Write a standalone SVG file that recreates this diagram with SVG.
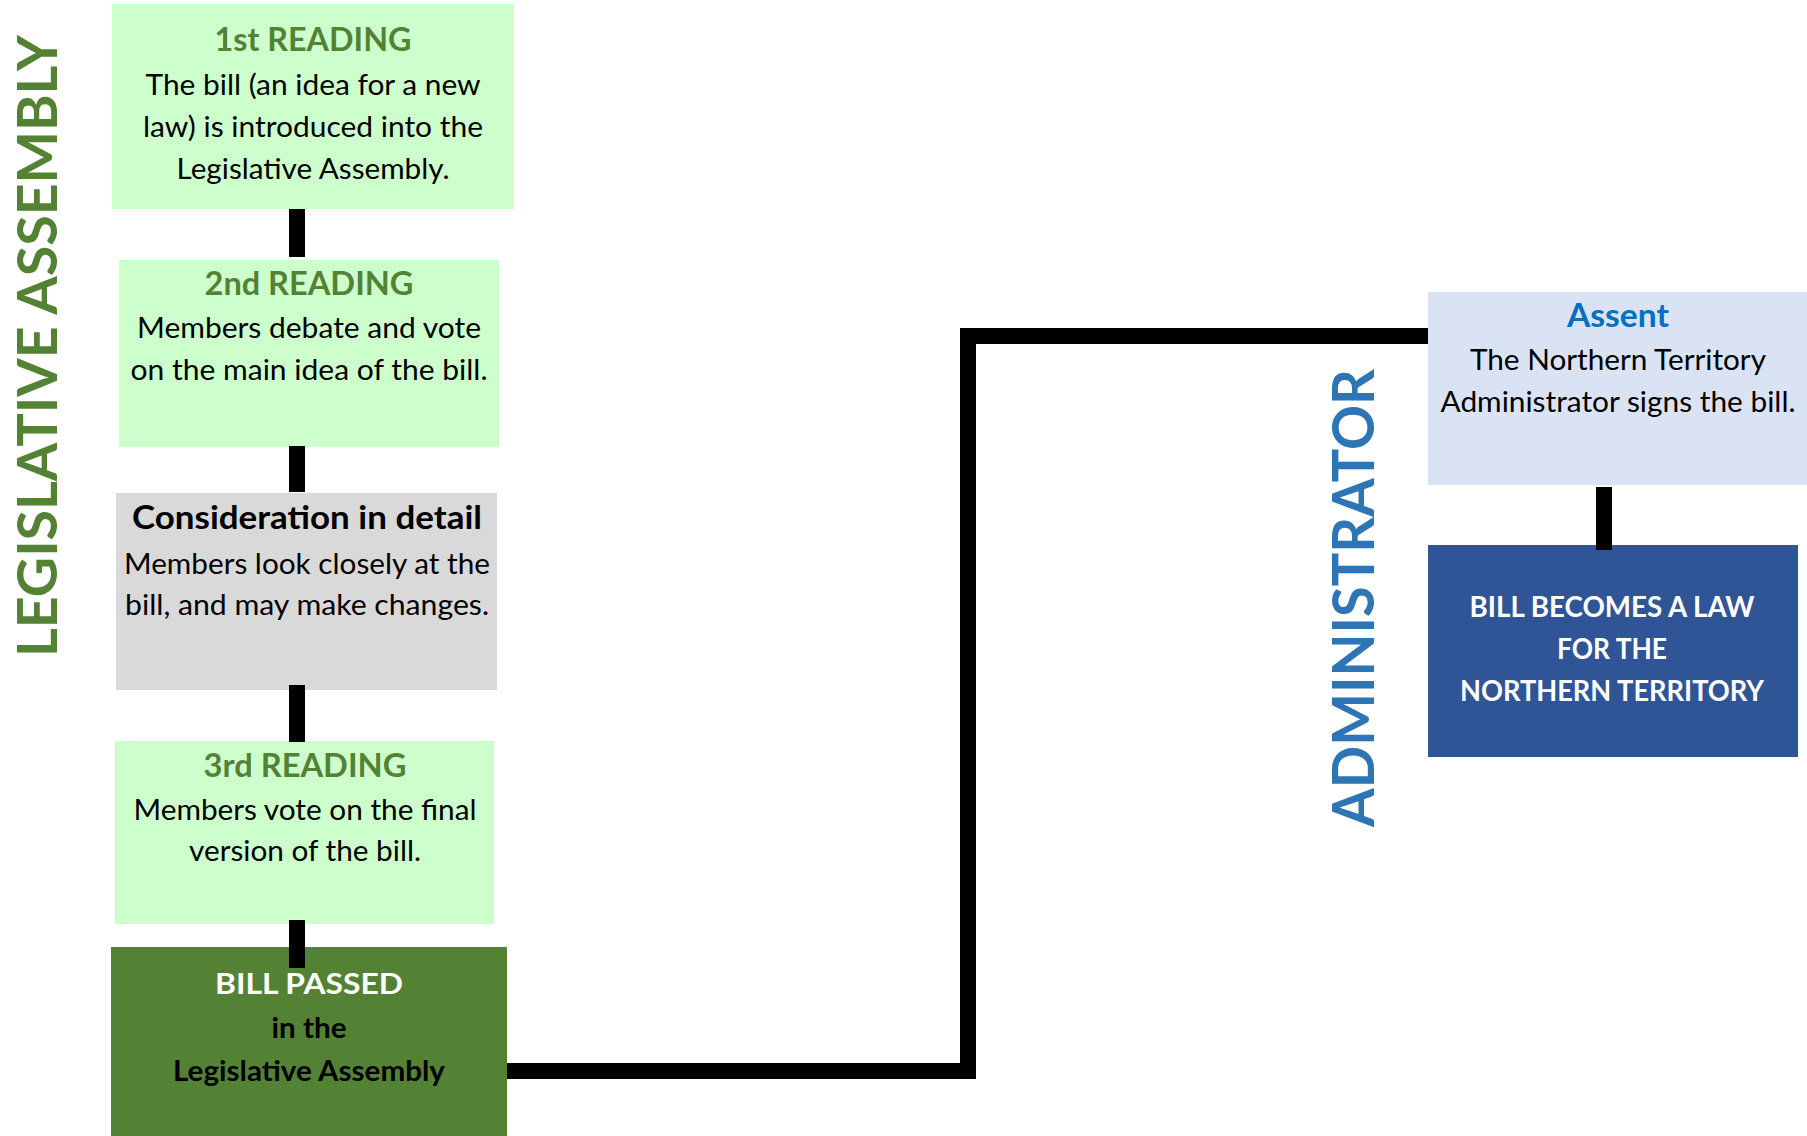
<svg xmlns="http://www.w3.org/2000/svg" width="1807" height="1136" viewBox="0 0 1807 1136">
<style>
  text { font-family: Lato, "Open Sans", "Liberation Sans", sans-serif; text-anchor: middle; }
  .body { font-size: 28px; fill: #000; }
  .head { font-size: 32px; font-weight: bold; fill: #548235; }
  .headk { font-size: 32px; font-weight: bold; fill: #000; }
  .wb { font-size: 28px; font-weight: bold; fill: #fff; }
  .kb { font-size: 28px; font-weight: bold; fill: #000; }
  .lg { fill: #CCFFCC; }
  .conn { stroke: #000; stroke-width: 16; fill: none; stroke-linejoin: miter; }
</style>
<rect width="1807" height="1136" fill="#fff"/>

<g id="label-legislative">
  <text transform="translate(57,346) rotate(-90)" font-size="56" font-weight="bold" fill="#548235" textLength="622" lengthAdjust="spacingAndGlyphs">LEGISLATIVE ASSEMBLY</text>
</g>
<g id="label-administrator">
  <text transform="translate(1374,598) rotate(-90)" font-size="57" font-weight="bold" fill="#2E75B6" textLength="458" lengthAdjust="spacingAndGlyphs">ADMINISTRATOR</text>
</g>

<g id="node-first-reading">
  <rect class="lg" x="112" y="4" width="402" height="205"/>
  <text class="head" x="313" y="51" textLength="197" lengthAdjust="spacingAndGlyphs">1st READING</text>
  <text class="body" x="313" y="95" textLength="335" lengthAdjust="spacingAndGlyphs">The bill (an idea for a new</text>
  <text class="body" x="313" y="137" textLength="340" lengthAdjust="spacingAndGlyphs">law) is introduced into the</text>
  <text class="body" x="313" y="179" textLength="273" lengthAdjust="spacingAndGlyphs">Legislative Assembly.</text>
</g>

<g id="node-second-reading">
  <rect class="lg" x="119" y="260" width="380" height="187"/>
  <text class="head" x="309" y="295" textLength="209" lengthAdjust="spacingAndGlyphs">2nd READING</text>
  <text class="body" x="309" y="338" textLength="344" lengthAdjust="spacingAndGlyphs">Members debate and vote</text>
  <text class="body" x="309" y="380" textLength="357" lengthAdjust="spacingAndGlyphs">on the main idea of the bill.</text>
</g>

<g id="node-consideration">
  <rect x="116" y="493" width="381" height="197" fill="#D9D9D9"/>
  <text class="headk" x="307" y="529" textLength="350" lengthAdjust="spacingAndGlyphs">Consideration in detail</text>
  <text class="body" x="307" y="574" textLength="366" lengthAdjust="spacingAndGlyphs">Members look closely at the</text>
  <text class="body" x="307" y="615" textLength="364" lengthAdjust="spacingAndGlyphs">bill, and may make changes.</text>
</g>

<g id="node-third-reading">
  <rect class="lg" x="115" y="741" width="379" height="183"/>
  <text class="head" x="305" y="777" textLength="203" lengthAdjust="spacingAndGlyphs">3rd READING</text>
  <text class="body" x="305" y="820" textLength="343" lengthAdjust="spacingAndGlyphs">Members vote on the final</text>
  <text class="body" x="305" y="861" textLength="232" lengthAdjust="spacingAndGlyphs">version of the bill.</text>
</g>

<g id="node-bill-passed">
  <rect x="111" y="947" width="396" height="189" fill="#548235"/>
  <text class="wb" x="309" y="994" textLength="188" lengthAdjust="spacingAndGlyphs">BILL PASSED</text>
  <text class="kb" x="309" y="1038" textLength="75" lengthAdjust="spacingAndGlyphs">in the</text>
  <text class="kb" x="309" y="1081" textLength="272" lengthAdjust="spacingAndGlyphs">Legislative Assembly</text>
</g>

<g id="node-assent">
  <rect x="1428" y="292" width="379" height="193" fill="#DAE3F3"/>
  <text x="1618" y="327" font-size="32" font-weight="bold" fill="#0070C0" textLength="102" lengthAdjust="spacingAndGlyphs">Assent</text>
  <text class="body" x="1618" y="370" textLength="296" lengthAdjust="spacingAndGlyphs">The Northern Territory</text>
  <text class="body" x="1618" y="412" textLength="355" lengthAdjust="spacingAndGlyphs">Administrator signs the bill.</text>
</g>

<g id="node-law">
  <rect x="1428" y="545" width="370" height="212" fill="#2F5597"/>
  <text class="wb" x="1612" y="617" textLength="285" lengthAdjust="spacingAndGlyphs">BILL BECOMES A LAW</text>
  <text class="wb" x="1612" y="659" textLength="110" lengthAdjust="spacingAndGlyphs">FOR THE</text>
  <text class="wb" x="1612" y="701" textLength="304" lengthAdjust="spacingAndGlyphs">NORTHERN TERRITORY</text>
</g>

<g id="connectors">
  <line class="conn" x1="297" y1="209" x2="297" y2="257"/>
  <line class="conn" x1="297" y1="446" x2="297" y2="492"/>
  <line class="conn" x1="297" y1="685" x2="297" y2="742"/>
  <line class="conn" x1="297" y1="920" x2="297" y2="968"/>
  <polyline class="conn" points="507,1071 968,1071 968,336 1428,336"/>
  <line class="conn" x1="1604" y1="487" x2="1604" y2="550"/>
</g>
</svg>
